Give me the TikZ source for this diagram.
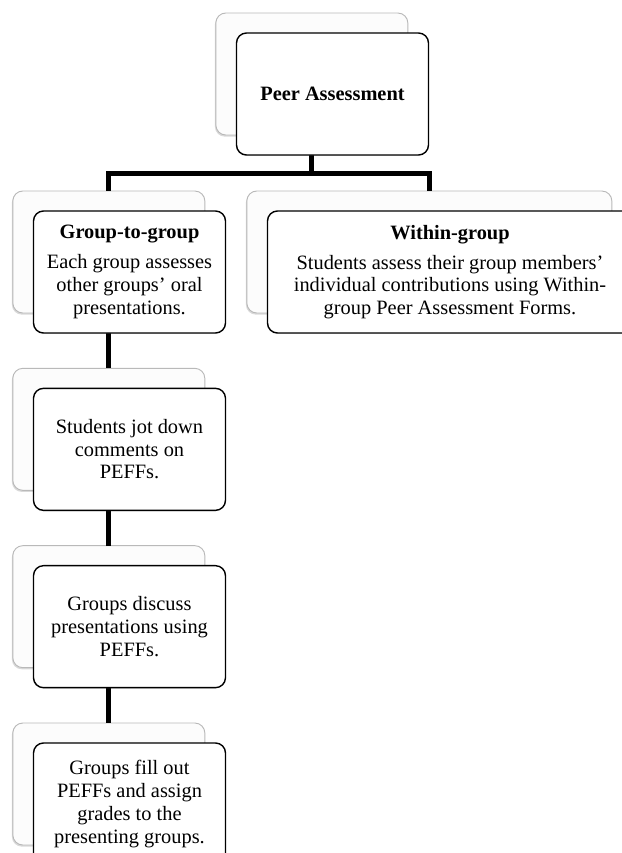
\documentclass[tikz,border=0pt]{standalone}
\usepackage{fontspec}
\setmainfont{Liberation Serif}
\usepackage{tikz}
\usetikzlibrary{positioning, fit, backgrounds, shadows}
\definecolor{backgray}{RGB}{185,185,185}
\definecolor{backfill}{RGB}{252,252,252}
\tikzstyle{card} = [rectangle, rounded corners=3mm, minimum width=5.76cm, minimum height=3.66cm, inner sep=2pt, outer sep=0pt, align=center, draw=black, line width=1.2pt, fill=white, drop shadow={shadow xshift=-0.4pt, shadow yshift=-0.8pt, opacity=0.2}, font=\fontsize{17.4}{19.4}\selectfont]
\tikzstyle{backcard} = [rectangle, rounded corners=3mm, inner sep=0pt, outer sep=0pt, draw=backgray, line width=0.8pt, fill=backfill, drop shadow={shadow xshift=-0.8pt, shadow yshift=-1.4pt, opacity=0.3}]
\tikzstyle{link} = [line width=0.15cm, draw=black]

\begin{document}
\begin{tikzpicture}[node distance=1.66cm]

\useasboundingbox (-9.975,2.82) rectangle (8.685,-22.77);

\node (pa) [card] {\textbf{Peer Assessment}};
\node (gg) [card, below left=1.68cm and 0.33cm of pa] {\textbf{Group-to-group}\\[6pt]Each group assesses\\other groups' oral\\presentations.};
\node (wg) [card, minimum width=10.95cm, right=1.26cm of gg] {\textbf{Within-group}\\[6pt]Students assess their group members'\\individual contributions using Within-\\group Peer Assessment Forms.};
\node (jot) [card, below=of gg] {Students jot down\\comments on\\PEFFs.};
\node (disc) [card, below=of jot] {Groups discuss\\presentations using\\PEFFs.};
\node (fill) [card, below=of disc] {Groups fill out\\PEFFs and assign\\grades to the\\presenting groups.};

\begin{scope}[on background layer]
\foreach \n in {pa,gg,wg,jot,disc,fill}
  \node (\n-back) [backcard, fit={([shift={(-0.62cm,0.6cm)}]\n.north west) ([shift={(-0.62cm,0.6cm)}]\n.south east)}] {};
\coordinate (split) at ([yshift=-1.15cm]pa-back.south);
\draw [link] (pa-back.south) -- (split) -| (gg-back.north);
\draw [link] (split) -| (wg-back.north);
\draw [link] (gg-back.south) -- (jot-back.north);
\draw [link] (jot-back.south) -- (disc-back.north);
\draw [link] (disc-back.south) -- (fill-back.north);
\end{scope}

\end{tikzpicture}
\end{document}
